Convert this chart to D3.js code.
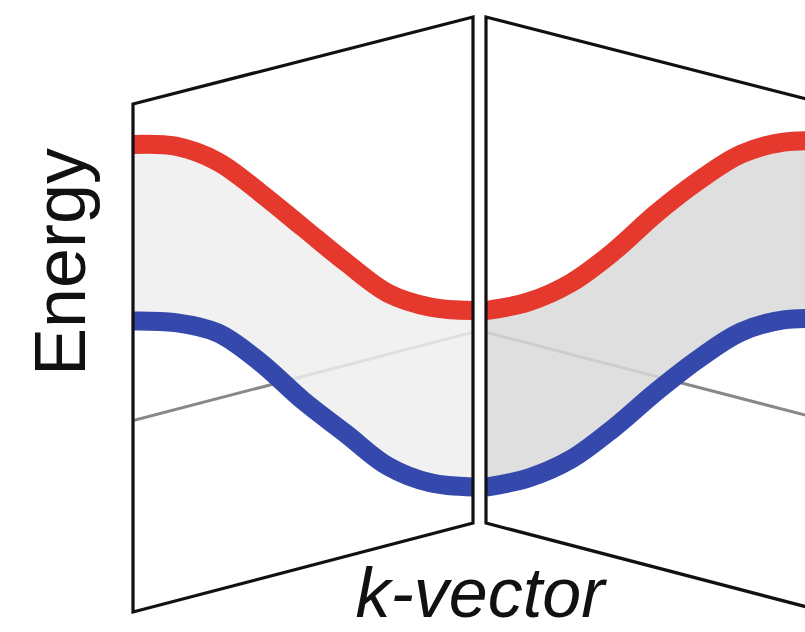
<!DOCTYPE html>
<html>
<head>
<meta charset="utf-8">
<script src="https://cdn.jsdelivr.net/npm/d3@7"></script>
<style>
  html, body { margin: 0; padding: 0; background: #fff; }
  svg { display: block; }
</style>
</head>
<body>
<svg></svg>
<script>
// Canvas size
const width = 805;
const height = 632;

// Wave vector samples (left half: -1..0, right half: 0..1)
const kLeft = [-1, -0.875, -0.75, -0.625, -0.5, -0.375, -0.25, -0.125, 0];
const kRight = [0, 0.125, 0.25, 0.375, 0.5, 0.625, 0.75, 0.875, 1];

// Band energies (arbitrary units)
const upperLeft = [0.99, 0.985, 0.94, 0.85, 0.75, 0.65, 0.56, 0.52, 0.51];
const lowerLeft = [0.48, 0.475, 0.445, 0.36, 0.25, 0.155, 0.06, 0.012, 0.00];
const upperRight = [0.51, 0.535, 0.59, 0.68, 0.79, 0.885, 0.962, 0.997, 1.00];
const lowerRight = [0.00, 0.026, 0.08, 0.17, 0.275, 0.37, 0.448, 0.483, 0.486];

// Axis titles
const yTitle = "Energy";
const xTitle = "k-vector";

const svg = d3.select("svg")
    .attr("width", width)
    .attr("height", height);

// Shared energy scale
const y = d3.scaleLinear().domain([0, 1]).range([487, 141]);

// Panels in perspective: outer edge is tall-ish, inner edge meets the spine
const panels = [
    {
        id: "left",
        x: d3.scaleLinear().domain([-1, 0]).range([133, 473]),
        k: kLeft, upper: upperLeft, lower: lowerLeft,
        // top and bottom y at the two ends of x range
        top: [104, 17], bottom: [612, 523],
        fill: "#eeeeee"
    },
    {
        id: "right",
        x: d3.scaleLinear().domain([0, 1]).range([486, 826]),
        k: kRight, upper: upperRight, lower: lowerRight,
        top: [17, 104], bottom: [523, 612],
        fill: "#d9d9d9"
    }
];

const floorFrac = 0.623; // where the floor line sits between top and bottom edges

const defs = svg.append("defs");

panels.forEach(p => {
    const [x0, x1] = p.x.range();
    const outline = [
        [x0, p.top[0]], [x1, p.top[1]],
        [x1, p.bottom[1]], [x0, p.bottom[0]]
    ];
    const pts = outline.map(d => d.join(",")).join(" ");

    defs.append("clipPath")
        .attr("id", "clip-" + p.id)
        .append("polygon")
        .attr("points", pts);

    const g = svg.append("g").attr("clip-path", `url(#clip-${p.id})`);

    // white background of the panel
    g.append("polygon")
        .attr("points", pts)
        .attr("fill", "#fff");

    // floor line
    const fy0 = p.top[0] + floorFrac * (p.bottom[0] - p.top[0]);
    const fy1 = p.top[1] + floorFrac * (p.bottom[1] - p.top[1]);
    g.append("line")
        .attr("x1", x0).attr("y1", fy0)
        .attr("x2", x1).attr("y2", fy1)
        .attr("stroke", "#888")
        .attr("stroke-width", 3);

    const rows = p.k.map((k, i) => ({ k: k, hi: p.upper[i], lo: p.lower[i] }));
    const curve = d3.curveCatmullRom.alpha(0.5);

    // shaded gap between the bands
    const area = d3.area()
        .x(d => p.x(d.k))
        .y0(d => y(d.lo))
        .y1(d => y(d.hi))
        .curve(curve);

    g.append("path")
        .datum(rows)
        .attr("d", area)
        .attr("fill", p.fill)
        .attr("fill-opacity", 0.85);

    const lineHi = d3.line().x(d => p.x(d.k)).y(d => y(d.hi)).curve(curve);
    const lineLo = d3.line().x(d => p.x(d.k)).y(d => y(d.lo)).curve(curve);

    g.append("path")
        .datum(rows)
        .attr("d", lineLo)
        .attr("fill", "none")
        .attr("stroke", "#3449ab")
        .attr("stroke-width", 19);

    g.append("path")
        .datum(rows)
        .attr("d", lineHi)
        .attr("fill", "none")
        .attr("stroke", "#e5392d")
        .attr("stroke-width", 19);

    // panel frame on top
    svg.append("polygon")
        .attr("points", pts)
        .attr("fill", "none")
        .attr("stroke", "#111")
        .attr("stroke-width", 3.2)
        .attr("stroke-linejoin", "miter");
});

// Axis titles
svg.append("text")
    .attr("transform", "translate(85,262) rotate(-90)")
    .attr("text-anchor", "middle")
    .style("font-family", "'Liberation Sans', Arial, sans-serif")
    .style("font-size", "72px")
    .attr("fill", "#111")
    .text(yTitle);

svg.append("text")
    .attr("x", 480)
    .attr("y", 617)
    .attr("text-anchor", "middle")
    .style("font-family", "'Liberation Sans', Arial, sans-serif")
    .style("font-size", "70px")
    .style("font-style", "italic")
    .attr("fill", "#111")
    .text(xTitle);
</script>
</body>
</html>
